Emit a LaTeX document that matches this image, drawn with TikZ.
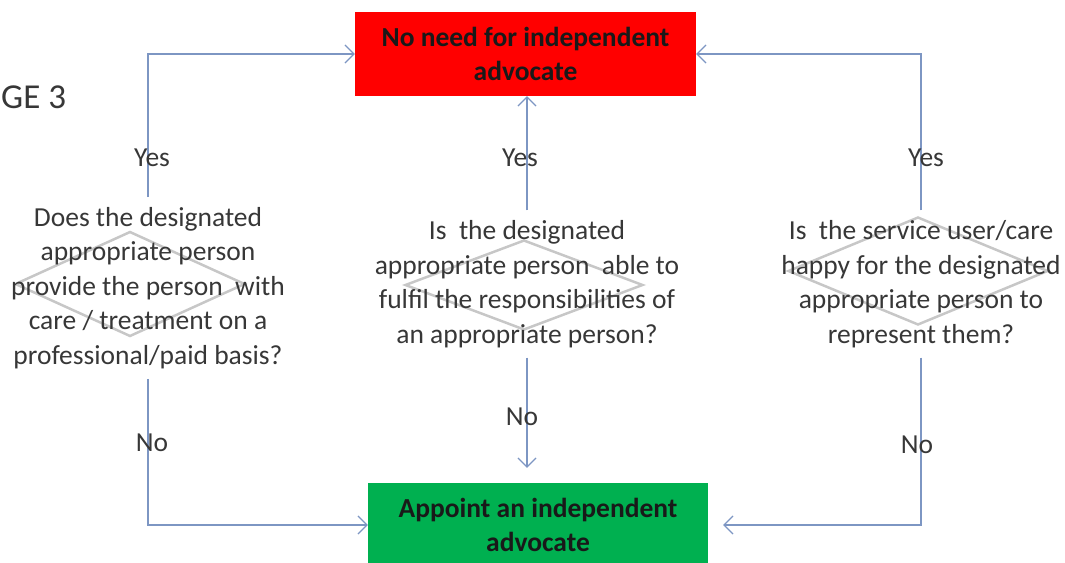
\documentclass[tikz,border=0pt]{standalone}
\usepackage{fontspec}
\setmainfont{Carlito}
\usetikzlibrary{shapes.geometric,arrows.meta}
\definecolor{boxred}{RGB}{255,0,0}
\definecolor{boxgreen}{RGB}{0,176,80}
\definecolor{flowblue}{RGB}{125,150,195}
\definecolor{textgray}{RGB}{55,55,55}

\begin{document}
\begin{tikzpicture}
				[x=1pt,y=-1pt,
				outcome/.style={rectangle,minimum width=341pt,minimum height=84pt,align=center,font=\fontsize{27.5}{34}\selectfont\bfseries,text=black!90},
				question/.style={align=center,inner xsep=0pt,inner ysep=10pt,font=\fontsize{27.5}{34.5}\selectfont,text=textgray},
				decision/.style={diamond,draw=black!22,line width=2.5pt,inner sep=0pt},
				flow/.style={draw=flowblue,line width=1.2pt,-{Straight Barb[length=9pt,width=18pt]}},
				answer/.style={font=\fontsize{27.5}{30}\selectfont,text=textgray,inner sep=0pt}]
				\useasboundingbox (0,0) rectangle (1065,562);
				
				\node[anchor=west,inner sep=0pt,font=\fontsize{35}{36}\selectfont,text=textgray] (stage) at (1,97) {GE 3};
				
				\node[outcome,fill=boxred] (nada) at (525.5,54) {No need for independent\\advocate};
				\node[outcome,fill=boxgreen,minimum width=340pt] (appt) at (538,525) {Appoint an independent\\advocate};
				
				\node[decision,minimum width=230pt,minimum height=105pt] (d1) at (130,284) {};
				\node[decision,minimum width=238pt,minimum height=90pt] (d2) at (524,285) {};
				\node[decision,minimum width=260pt,minimum height=108pt] (d3) at (918,271) {};
				
				\node[question] (q1) at (148,288) {Does the designated\\appropriate person\\provide the person\ \ with\\care / treatment on a\\professional/paid basis?};
				\node[question] (q2) at (527,284) {Is\ \ the designated\\appropriate person\ \ able to\\fulfil the responsibilities of\\an appropriate person?};
				\node[question] (q3) at (921,284) {Is\ \ the service user/care\\happy for the designated\\appropriate person to\\represent them?};
				
				\draw[flow] (q1.north) |- node[answer,pos=0.138,xshift=4pt] (yes1) {Yes} (nada.west);
				\draw[flow] (q2.north) -- node[answer,pos=0.46,xshift=-7pt] (yes2) {Yes} (q2.north |- nada.south);
				\draw[flow] (q3.north) |- node[answer,pos=0.167,xshift=5pt] (yes3) {Yes} (nada.east);
				
				\draw[flow] (q1.south) |- node[answer,pos=0.22,xshift=4pt] (no1) {No} (appt.west);
				\draw[flow,shorten >=15pt] (q2.south) -- node[answer,pos=0.47,xshift=-5pt] (no2) {No} (q2.south |- appt.north);
				\draw[flow,shorten >=15pt] (q3.south) |- node[answer,pos=0.26,xshift=-4pt] (no3) {No} (appt.east);
				\end{tikzpicture}
\end{document}
